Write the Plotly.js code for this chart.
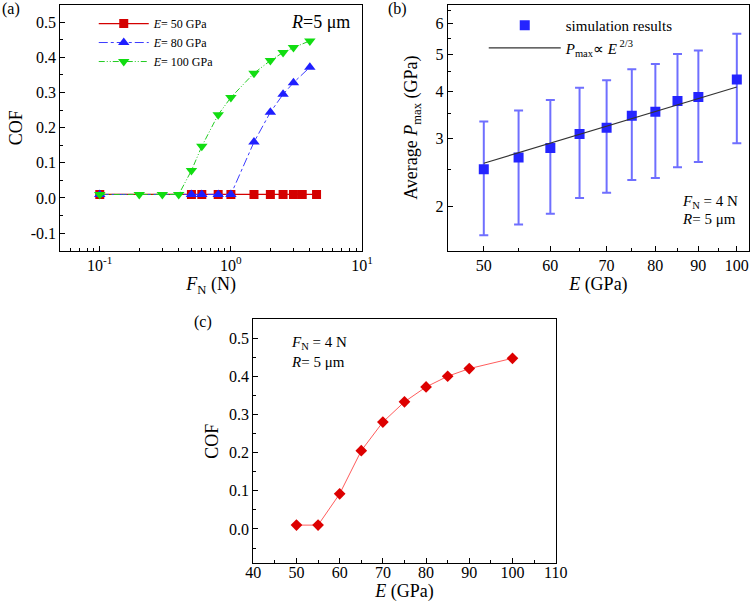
<!DOCTYPE html>
<html><head><meta charset="utf-8">
<script src="https://cdn.plot.ly/plotly-3.0.1.min.js"></script>
<style>html,body{margin:0;padding:0;background:#fff}#chart{width:750px;height:602px}</style>
</head><body><div id="chart"></div>
<script>
// ---------- Panel (a): COF vs normal load ----------
const fnE50  = [0.1, 0.5, 0.6, 0.8, 1.0, 1.5, 2.0, 2.5, 3.0, 3.5, 4.5];
const cofE50 = [0.01, 0.01, 0.01, 0.01, 0.01, 0.01, 0.01, 0.01, 0.01, 0.01, 0.01];
const fnE80  = [0.1, 0.5, 0.6, 0.8, 1.0, 1.5, 2.0, 2.5, 3.0, 4.0];
const cofE80 = [0.01, 0.01, 0.01, 0.01, 0.01, 0.159, 0.244, 0.295, 0.328, 0.372];
const fnE100  = [0.1, 0.2, 0.3, 0.4, 0.5, 0.6, 0.8, 1.0, 1.5, 2.0, 2.5, 3.0, 4.0];
const cofE100 = [0.01, 0.01, 0.01, 0.01, 0.078, 0.147, 0.237, 0.286, 0.355, 0.391, 0.414, 0.428, 0.447];
const aXTickVals = [0.1, 1, 10];
const aXTickText = ['10<sup>-1</sup>', '10<sup>0</sup>', '10<sup>1</sup>'];
const aYTickVals = [-0.1, 0.0, 0.1, 0.2, 0.3, 0.4, 0.5];
const aYTickText = ['-0.1', '0.0', '0.1', '0.2', '0.3', '0.4', '0.5'];

// ---------- Panel (b): average Pmax vs E ----------
const eSim     = [50, 55, 60, 65, 70, 75, 80, 85, 90, 100];
const pmaxSim  = [2.50, 2.68, 2.84, 3.09, 3.21, 3.45, 3.53, 3.77, 3.86, 4.29];
const pmaxHigh = [3.33, 3.56, 3.79, 4.08, 4.27, 4.56, 4.71, 5.00, 5.11, 5.65];
const pmaxLow  = [1.68, 1.79, 1.91, 2.10, 2.17, 2.34, 2.37, 2.53, 2.61, 2.92];
const eFit     = [50, 100];
const pmaxFit  = [2.59, 4.10];
const bXTickVals = [50, 60, 70, 80, 90, 100];
const bYTickVals = [2, 3, 4, 5, 6];

// ---------- Panel (c): COF vs E ----------
const eC   = [50, 55, 60, 65, 70, 75, 80, 85, 90, 100];
const cofC = [0.01, 0.01, 0.092, 0.205, 0.280, 0.333, 0.372, 0.400, 0.420, 0.447];

const FONT = 'Liberation Serif, Times New Roman, serif';

// minor tick positions for log axis (a)
const aMinor = [];
[0.01, 0.1, 1].forEach(d => { for (let k = 2; k <= 9; k++) aMinor.push(+(k * d).toFixed(4)); });

const errPlus  = pmaxHigh.map((v, i) => v - pmaxSim[i]);
const errMinus = pmaxSim.map((v, i) => v - pmaxLow[i]);

const traces = [
  {x: fnE50, y: cofE50, xaxis: 'x', yaxis: 'y', mode: 'lines+markers', name: '<i>E</i>= 50 GPa',
   line: {color: '#d40000', width: 1.2}, marker: {symbol: 'square', size: 9, color: '#d40000'}, legend: 'legend'},
  {x: fnE80, y: cofE80, xaxis: 'x', yaxis: 'y', mode: 'lines+markers', name: '<i>E</i>= 80 GPa',
   line: {color: '#3b3bff', width: 1, dash: 'dashdot'}, marker: {symbol: 'triangle-up', size: 10, color: '#1f1fff'}, legend: 'legend'},
  {x: fnE100, y: cofE100, xaxis: 'x', yaxis: 'y', mode: 'lines+markers', name: '<i>E</i>= 100 GPa',
   line: {color: '#22cc22', width: 1, dash: '6px,2px,1px,2px,1px,2px'}, marker: {symbol: 'triangle-down', size: 10, color: '#11dd11'}, legend: 'legend'},
  {x: eSim, y: pmaxSim, xaxis: 'x2', yaxis: 'y2', mode: 'markers', name: 'simulation results',
   marker: {symbol: 'square', size: 10, color: '#2424ff'},
   error_y: {type: 'data', symmetric: false, array: errPlus, arrayminus: errMinus, color: '#6f6fff', thickness: 2, width: 4.5},
   legend: 'legend2'},
  {x: eFit, y: pmaxFit, xaxis: 'x2', yaxis: 'y2', mode: 'lines', name: '<i>P</i><sub>max</sub>∝ <i>E</i><sup> 2/3</sup>',
   line: {color: '#333333', width: 1.2}, legend: 'legend2'},
  {x: eC, y: cofC, xaxis: 'x3', yaxis: 'y3', mode: 'lines+markers', showlegend: false,
   line: {color: '#ff5c5c', width: 1}, marker: {symbol: 'diamond', size: 9, color: '#dd0000'}}
];

const axBase = {showline: true, mirror: true, linecolor: '#000', linewidth: 1, ticks: 'inside', ticklen: 5,
  tickcolor: '#000', showgrid: false, zeroline: false, tickfont: {family: FONT, size: 16, color: '#000'}};
const titleFont = {family: FONT, size: 18, color: '#000'};

const layout = {
  width: 750, height: 602, margin: {l: 0, r: 0, t: 0, b: 0},
  paper_bgcolor: '#fff', plot_bgcolor: '#fff',
  font: {family: FONT, color: '#000'},
  xaxis: Object.assign({}, axBase, {type: 'log', domain: [0.0804, 0.4827], anchor: 'y',
    range: [Math.log10(0.05), 1], tickmode: 'array', tickvals: aXTickVals, ticktext: aXTickText,
    minor: {tickvals: aMinor, ticks: 'inside', ticklen: 3, tickcolor: '#000'},
    title: {text: '<i>F</i><sub>N</sub> (N)', font: titleFont, standoff: 4}}),
  yaxis: Object.assign({}, axBase, {domain: [0.5836, 0.9922], anchor: 'x', range: [-0.15, 0.55],
    tickmode: 'array', tickvals: aYTickVals, ticktext: aYTickText,
    minor: {dtick: 0.05, tick0: 0, ticks: 'inside', ticklen: 3, tickcolor: '#000'},
    title: {text: 'COF', font: titleFont, standoff: 3}}),
  xaxis2: Object.assign({}, axBase, {type: 'log', domain: [0.597, 0.9987], anchor: 'y2',
    range: [Math.log10(45.3), Math.log10(103.4)], tickmode: 'array', tickvals: bXTickVals,
    minor: {tickvals: [55, 65, 75, 85, 95], ticks: 'inside', ticklen: 3, tickcolor: '#000'},
    title: {text: '<i>E</i> (GPa)', font: titleFont, standoff: 4}}),
  yaxis2: Object.assign({}, axBase, {type: 'log', domain: [0.5836, 0.9922], anchor: 'x2',
    range: [Math.log10(1.53), Math.log10(6.73)], tickmode: 'array', tickvals: bYTickVals,
    minor: {tickvals: [2.5, 3.5, 4.5, 5.5, 6.5], ticks: 'inside', ticklen: 3, tickcolor: '#000'},
    title: {text: 'Average <i>P</i><sub>max</sub> (GPa)', font: titleFont, standoff: 13}}),
  xaxis3: Object.assign({}, axBase, {domain: [0.3377, 0.7409], anchor: 'y3', range: [40, 110],
    dtick: 10, tick0: 0, ticklabelstandoff: -5, minor: {dtick: 5, ticks: 'inside', ticklen: 3, tickcolor: '#000'},
    title: {text: '<i>E</i> (GPa)', font: titleFont, standoff: 2}}),
  yaxis3: Object.assign({}, axBase, {domain: [0.0643, 0.4701], anchor: 'x3', range: [-0.09, 0.55],
    dtick: 0.1, tick0: 0, tickformat: '.1f', minor: {dtick: 0.05, tick0: 0, ticks: 'inside', ticklen: 3, tickcolor: '#000'},
    title: {text: 'COF', font: titleFont, standoff: 5}}),
  legend: {x: 0.125, y: 0.985, xanchor: 'left', yanchor: 'top', bgcolor: 'rgba(0,0,0,0)',
    font: {family: FONT, size: 12, color: '#000'}, itemwidth: 50, tracegroupgap: 0},
  legend2: {x: 0.645, y: 0.985, xanchor: 'left', yanchor: 'top', bgcolor: 'rgba(0,0,0,0)',
    font: {family: FONT, size: 15, color: '#000'}, itemwidth: 72},
  annotations: [
    {text: '(a)', xref: 'paper', yref: 'paper', x: 0, y: 0.985, xanchor: 'left', yanchor: 'middle', showarrow: false, font: {family: FONT, size: 16}},
    {text: '(b)', xref: 'paper', yref: 'paper', x: 0.514, y: 0.985, xanchor: 'left', yanchor: 'middle', showarrow: false, font: {family: FONT, size: 16}},
    {text: '(c)', xref: 'paper', yref: 'paper', x: 0.256, y: 0.4656, xanchor: 'left', yanchor: 'middle', showarrow: false, font: {family: FONT, size: 16}},
    {text: '<i>R</i>=5 μm', xref: 'paper', yref: 'paper', x: 0.4693, y: 0.964, xanchor: 'right', yanchor: 'middle', showarrow: false, font: {family: FONT, size: 18}},
    {text: '<i>F</i><sub>N</sub> = 4 N', xref: 'paper', yref: 'paper', x: 0.907, y: 0.665, xanchor: 'left', yanchor: 'middle', showarrow: false, font: {family: FONT, size: 15}},
    {text: '<i>R</i>= 5 μm', xref: 'paper', yref: 'paper', x: 0.907, y: 0.6357, xanchor: 'left', yanchor: 'middle', showarrow: false, font: {family: FONT, size: 15}},
    {text: '<i>F</i><sub>N</sub> = 4 N', xref: 'paper', yref: 'paper', x: 0.385, y: 0.4297, xanchor: 'left', yanchor: 'middle', showarrow: false, font: {family: FONT, size: 15}},
    {text: '<i>R</i>= 5 μm', xref: 'paper', yref: 'paper', x: 0.385, y: 0.3992, xanchor: 'left', yanchor: 'middle', showarrow: false, font: {family: FONT, size: 15}}
  ]
};

Plotly.newPlot('chart', traces, layout, {staticPlot: true, displayModeBar: false});
</script>
</body></html>
